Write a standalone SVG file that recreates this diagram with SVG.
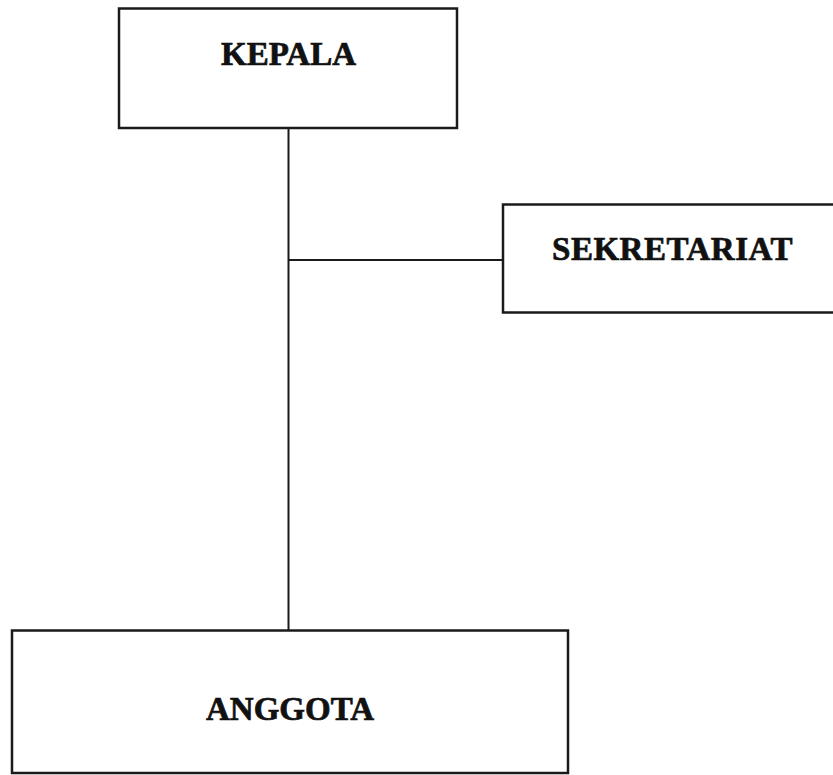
<svg xmlns="http://www.w3.org/2000/svg" width="833" height="775" viewBox="0 0 833 775">
<style>
.box{fill:#fff;stroke:#1a1a1a;stroke-width:2.5}
.lbl{font-family:"Liberation Serif","DejaVu Serif",serif;font-weight:bold;font-size:33px;fill:#111;stroke:#111;stroke-width:0.7;text-anchor:middle}
.con{stroke:#1a1a1a;stroke-width:2;fill:none}
</style>
<rect width="833" height="775" fill="#fff"/>
<g id="connectors">
<line class="con" x1="288.5" y1="128" x2="288.5" y2="631"/>
<line class="con" x1="288.5" y1="260" x2="503" y2="260"/>
</g>
<g id="kepala">
<rect class="box" x="119" y="8.5" width="338" height="119.5"/>
<text class="lbl" x="288.5" y="65">KEPALA</text>
</g>
<g id="sekretariat">
<rect class="box" x="503" y="204.5" width="340" height="108"/>
<text class="lbl" x="672.5" y="260" letter-spacing="0.5">SEKRETARIAT</text>
</g>
<g id="anggota">
<rect class="box" x="12" y="630.5" width="556" height="142.5"/>
<text class="lbl" x="290" y="720">ANGGOTA</text>
</g>
</svg>
